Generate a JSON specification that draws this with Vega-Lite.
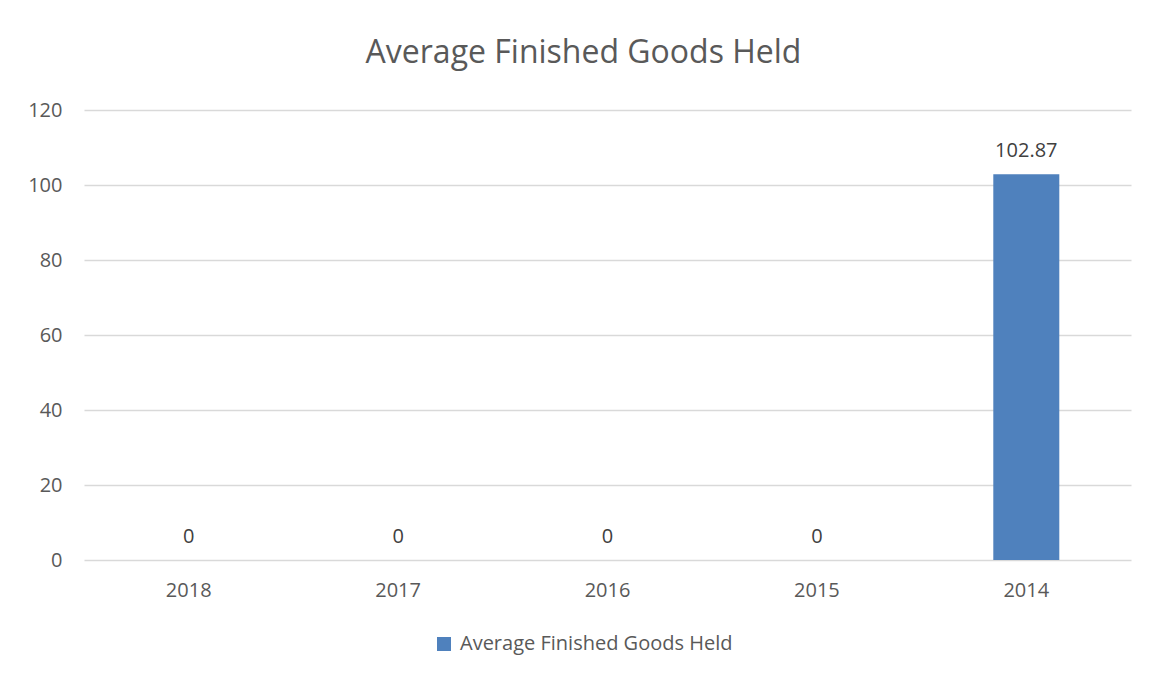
{
  "$schema": "https://vega.github.io/schema/vega-lite/v6.json",
  "autosize": "none",
  "width": 1047,
  "height": 450,
  "padding": {"left": 84, "top": 110, "right": 22, "bottom": 115},
  "background": "white",
  "config": {"view": {"stroke": null}, "font": "Open Sans"},
  "title": {"text": "Average Finished Goods Held", "fontSize": 32, "font": "Open Sans", "fontWeight": "normal", "color": "#595959", "anchor": "middle", "offset": 30, "dx": -24},
  "data": {"values": [
    {"year": "2018", "value": 0, "series": "Average Finished Goods Held"},
    {"year": "2017", "value": 0, "series": "Average Finished Goods Held"},
    {"year": "2016", "value": 0, "series": "Average Finished Goods Held"},
    {"year": "2015", "value": 0, "series": "Average Finished Goods Held"},
    {"year": "2014", "value": 102.87, "series": "Average Finished Goods Held"}
  ]},
  "encoding": {
    "x": {"field": "year", "type": "ordinal", "sort": ["2018", "2017", "2016", "2015", "2014"],
      "scale": {"paddingInner": 0, "paddingOuter": 0},
      "axis": {"title": null, "labelAngle": 0, "labelFontSize": 20, "labelColor": "#595959", "ticks": false, "domain": false, "labelPadding": 20}},
    "y": {"field": "value", "type": "quantitative", "scale": {"domain": [0, 120]},
      "axis": {"title": null, "values": [0, 20, 40, 60, 80, 100, 120], "labelFontSize": 20, "labelColor": "#595959", "ticks": false, "domain": false, "labelPadding": 22, "gridColor": "#d9d9d9", "gridWidth": 1.5}}
  },
  "layer": [
    {"mark": {"type": "bar", "size": 66},
     "encoding": {"color": {"field": "series", "type": "nominal", "scale": {"range": ["#4f81bd"]},
       "legend": {"title": null, "orient": "none", "legendX": 350, "legendY": 524, "labelFontSize": 20, "labelLimit": 500, "labelColor": "#595959", "symbolType": "square", "symbolSize": 196, "symbolStrokeWidth": 0, "labelOffset": 6}}}},
    {"mark": {"type": "text", "fontSize": 20, "color": "#404040", "baseline": "alphabetic", "dy": -17},
     "encoding": {"text": {"field": "value", "type": "quantitative"}}}
  ]
}
